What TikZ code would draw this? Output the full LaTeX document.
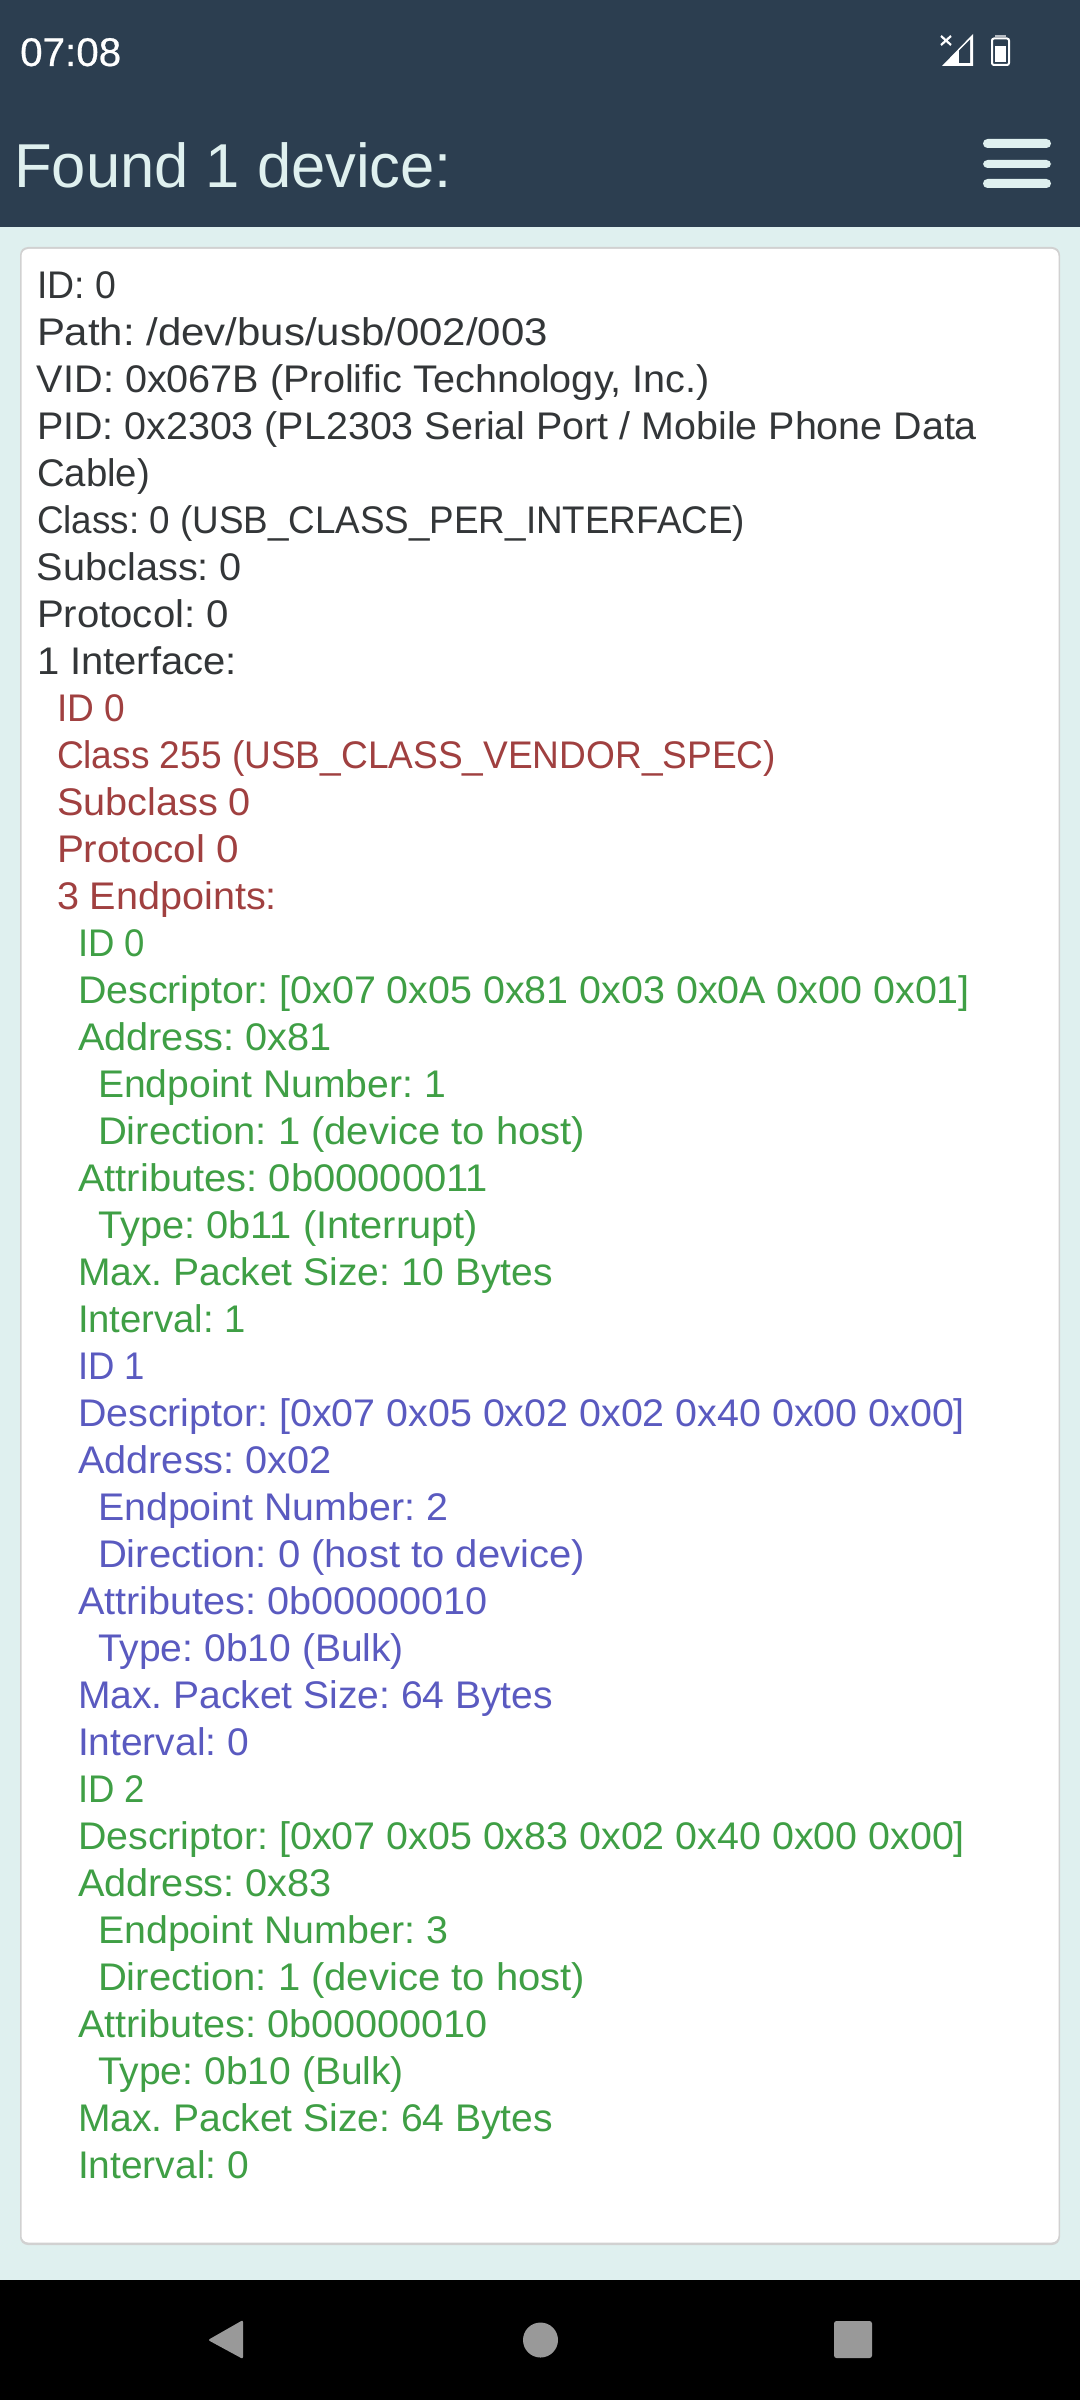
\documentclass[tikz,border=0pt]{standalone}
\usepackage{fontspec}
\usepackage{graphicx}
\setmainfont{Liberation Sans}
\newfontfamily\timef[FakeBold=0.5]{Liberation Sans}
\definecolor{hdr}{HTML}{2C3E50}
\definecolor{pale}{HTML}{DFF0EF}
\definecolor{ink}{HTML}{333638}
\definecolor{redt}{HTML}{A04040}
\definecolor{greent}{HTML}{3F9F45}
\definecolor{bluet}{HTML}{5A5AC0}
\definecolor{navg}{HTML}{999999}
\newcommand{\fitw}[2]{\resizebox{#1pt}{\height}{#2}}
\tikzset{
 x=1pt,y=-1pt,
 line/.style={anchor=base west,inner sep=0pt,outer sep=0pt,font=\fontsize{38.5}{47}\selectfont},
 l0/.style={line,text=ink},
 r1/.style={line,text=redt},
 g2/.style={line,text=greent},
 b2/.style={line,text=bluet},
 bar/.style={draw=none,fill=pale,rounded corners=4.5pt}
}
\begin{document}
\frenchspacing
\begin{tikzpicture}
\useasboundingbox (0,0) rectangle (1080,2400);
\fill[hdr] (0,0) rectangle (1080,227);
\fill[pale] (0,227) rectangle (1080,2280);
\fill[black] (0,2280) rectangle (1080,2400);
% card
\fill[black!18,rounded corners=8pt] (20,247) rectangle (1060,2245);
\fill[white,rounded corners=7pt] (21.5,249) rectangle (1058.5,2242.5);
% status bar
\node[anchor=base west,inner sep=0pt,text=white,font=\timef\fontsize{40}{40}\selectfont] (time) at (20,66) {\fitw{101}{07:08}};
\fill[white] (973,34) -- (973,66) -- (942,66) -- cycle;
\fill[hdr] (959,50.5) -- (970,39.5) -- (970,63) -- (959,63) -- cycle;
\draw[white,line width=2.2pt] (941,36) -- (951,45) (951,36) -- (941,45);
\fill[white!65!hdr] (995,35) rectangle (1006,37);
\draw[white,line width=2pt,rounded corners=2pt] (992,38.5) rectangle (1009,65);
\fill[white] (995,46) rectangle (1006,62);
% title
\node[anchor=base west,inner sep=0pt,text=pale,font=\fontsize{62}{70}\selectfont] (title) at (14,188) {\fitw{438}{Found 1 device:}};
\fill[bar] (983,139) rectangle (1051,148);
\fill[bar] (983,160) rectangle (1051,168);
\fill[bar] (983,179) rectangle (1051,188);
% text
\node[l0] (a1) at (37,298) {\fitw{79}{ID: 0}};
\node[l0] (a2) at (37,345) {\fitw{511}{Path: /dev/bus/usb/002/003}};
\node[l0] (a3) at (37,392) {\fitw{673}{VID: 0x067B (Prolific Technology, Inc.)}};
\node[l0] (a4) at (37,439) {\fitw{940}{PID: 0x2303 (PL2303 Serial Port / Mobile Phone Data}};
\node[l0] (a5) at (37,486) {\fitw{113}{Cable)}};
\node[l0] (a6) at (37,533) {\fitw{708}{Class: 0 (USB\_CLASS\_PER\_INTERFACE)}};
\node[l0] (a7) at (37,580) {\fitw{205}{Subclass: 0}};
\node[l0] (a8) at (37,627) {\fitw{192}{Protocol: 0}};
\node[l0] (a9) at (37,674) {\fitw{200}{1 Interface:}};
\node[r1] (i1) at (57,721) {\fitw{68}{ID 0}};
\node[r1] (i2) at (57,768) {\fitw{719}{Class 255 (USB\_CLASS\_VENDOR\_SPEC)}};
\node[r1] (i3) at (57,815) {\fitw{194}{Subclass 0}};
\node[r1] (i4) at (57,862) {\fitw{182}{Protocol 0}};
\node[r1] (i5) at (57,909) {\fitw{220}{3 Endpoints:}};
\node[g2] (e1) at (78,956) {\fitw{67}{ID 0}};
\node[g2] (e2) at (78,1003) {\fitw{892}{Descriptor: [0x07 0x05 0x81 0x03 0x0A 0x00 0x01]}};
\node[g2] (e3) at (78,1050) {\fitw{254}{Address: 0x81}};
\node[g2] (e4) at (98,1097) {\fitw{348}{Endpoint Number: 1}};
\node[g2] (e5) at (98,1144) {\fitw{487}{Direction: 1 (device to host)}};
\node[g2] (e6) at (78,1191) {\fitw{410}{Attributes: 0b00000011}};
\node[g2] (e7) at (98,1238) {\fitw{380}{Type: 0b11 (Interrupt)}};
\node[g2] (e8) at (78,1285) {\fitw{475}{Max. Packet Size: 10 Bytes}};
\node[g2] (e9) at (78,1332) {\fitw{168}{Interval: 1}};
\node[b2] (f1) at (78,1379) {\fitw{67}{ID 1}};
\node[b2] (f2) at (78,1426) {\fitw{887}{Descriptor: [0x07 0x05 0x02 0x02 0x40 0x00 0x00]}};
\node[b2] (f3) at (78,1473) {\fitw{254}{Address: 0x02}};
\node[b2] (f4) at (98,1520) {\fitw{350}{Endpoint Number: 2}};
\node[b2] (f5) at (98,1567) {\fitw{487}{Direction: 0 (host to device)}};
\node[b2] (f6) at (78,1614) {\fitw{410}{Attributes: 0b00000010}};
\node[b2] (f7) at (98,1661) {\fitw{306}{Type: 0b10 (Bulk)}};
\node[b2] (f8) at (78,1708) {\fitw{475}{Max. Packet Size: 64 Bytes}};
\node[b2] (f9) at (78,1755) {\fitw{171}{Interval: 0}};
\node[g2] (h1) at (78,1802) {\fitw{67}{ID 2}};
\node[g2] (h2) at (78,1849) {\fitw{887}{Descriptor: [0x07 0x05 0x83 0x02 0x40 0x00 0x00]}};
\node[g2] (h3) at (78,1896) {\fitw{254}{Address: 0x83}};
\node[g2] (h4) at (98,1943) {\fitw{350}{Endpoint Number: 3}};
\node[g2] (h5) at (98,1990) {\fitw{487}{Direction: 1 (device to host)}};
\node[g2] (h6) at (78,2037) {\fitw{410}{Attributes: 0b00000010}};
\node[g2] (h7) at (98,2084) {\fitw{306}{Type: 0b10 (Bulk)}};
\node[g2] (h8) at (78,2131) {\fitw{475}{Max. Packet Size: 64 Bytes}};
\node[g2] (h9) at (78,2178) {\fitw{171}{Interval: 0}};
% nav
\fill[navg,rounded corners=2pt] (243,2320) -- (243,2359) -- (208,2340) -- cycle;
\fill[navg] (540.5,2340) circle (17.5);
\fill[navg,rounded corners=2.5pt] (834,2321) rectangle (872,2358);
\end{tikzpicture}
\end{document}
